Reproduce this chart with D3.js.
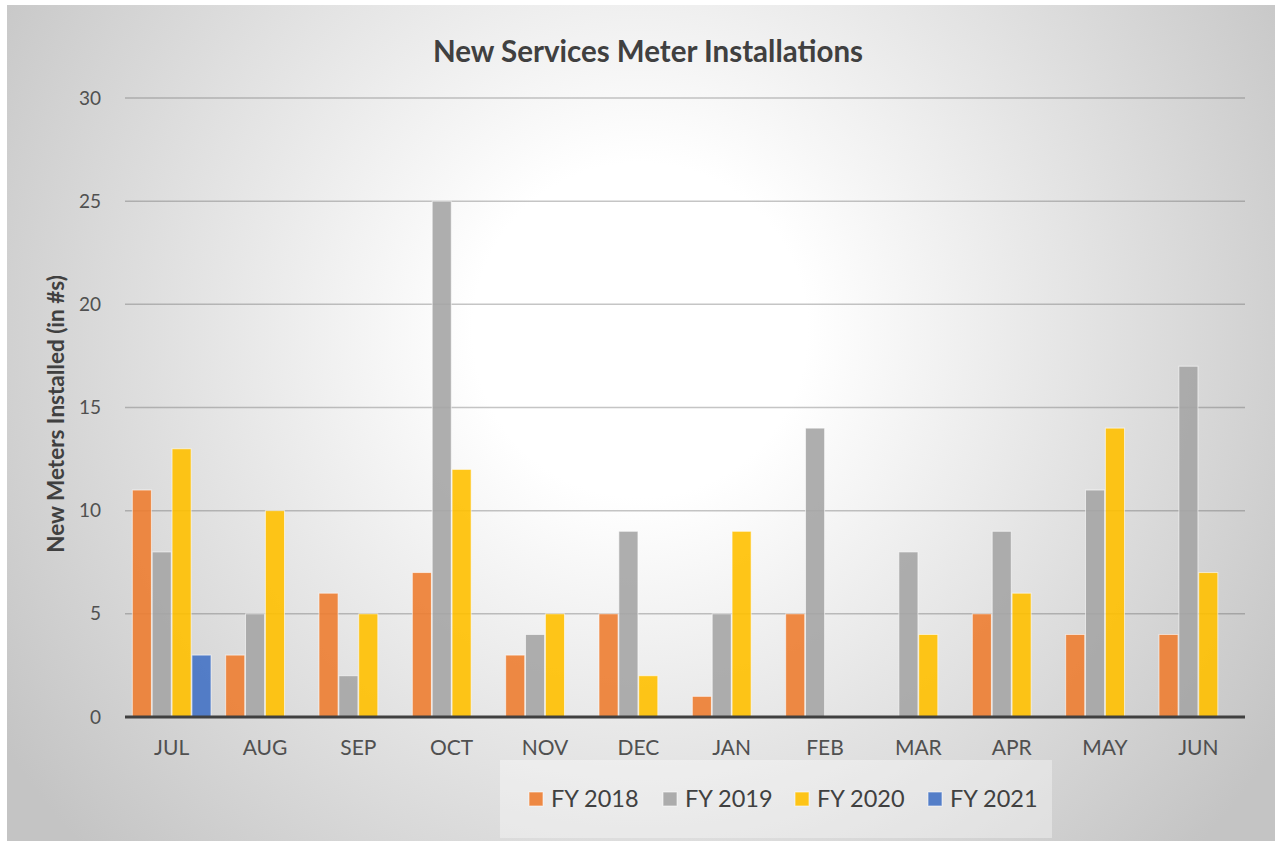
<!DOCTYPE html>
<html lang="en">
<head>
<meta charset="UTF-8">
<title>New Services Meter Installations</title>
<style>
  html, body { margin: 0; padding: 0; background: #fff; }
  svg { display: block; }
</style>
</head>
<body>
<div id="chart"></div>
<script src="https://cdnjs.cloudflare.com/ajax/libs/d3/7.8.5/d3.min.js"></script>
<script>
const months = ['JUL', 'AUG', 'SEP', 'OCT', 'NOV', 'DEC', 'JAN', 'FEB', 'MAR', 'APR', 'MAY', 'JUN'];
const seriesNames = ['FY 2018', 'FY 2019', 'FY 2020', 'FY 2021'];
const fy2018 = [11, 3, 6, 7, 3, 5, 1, 5, null, 5, 4, 4];
const fy2019 = [8, 5, 2, 25, 4, 9, 5, 14, 8, 9, 11, 17];
const fy2020 = [13, 10, 5, 12, 5, 2, 9, null, 4, 6, 14, 7];
const fy2021 = [3, null, null, null, null, null, null, null, null, null, null, null];
const yTicks = [0, 5, 10, 15, 20, 25, 30];
const colors = ['#ED7D31', '#A5A5A5', '#FFC000', '#4472C4'];

const allSeries = [fy2018, fy2019, fy2020, fy2021];
const W = 1275, H = 841;
const margin = {left: 125, right: 30, top: 98, bottom: 124};
const font = 'Lato, "Open Sans", sans-serif';

const svg = d3.select('#chart').append('svg')
  .attr('width', W).attr('height', H);

const defs = svg.append('defs');
const grad = defs.append('radialGradient')
  .attr('id', 'bg')
  .attr('gradientUnits', 'userSpaceOnUse')
  .attr('cx', 640).attr('cy', 330).attr('r', 760);
grad.append('stop').attr('offset', '0%').attr('stop-color', '#ffffff');
grad.append('stop').attr('offset', '22%').attr('stop-color', '#ffffff');
grad.append('stop').attr('offset', '100%').attr('stop-color', '#c4c4c4');

svg.append('rect')
  .attr('x', 7).attr('y', 5).attr('width', W - 7).attr('height', H - 5)
  .attr('fill', 'url(#bg)');

const x0 = d3.scaleBand()
  .domain(months)
  .range([margin.left, W - margin.right])
  .paddingInner(0.14).paddingOuter(0.07);

const x1 = d3.scaleBand()
  .domain(seriesNames)
  .range([0, x0.bandwidth()])
  .padding(0.04);

const y = d3.scaleLinear()
  .domain([0, 30])
  .range([H - margin.bottom, margin.top]);

// gridlines
svg.append('g')
  .selectAll('line')
  .data(yTicks.filter(d => d > 0))
  .join('line')
  .attr('x1', margin.left).attr('x2', W - margin.right)
  .attr('y1', d => y(d)).attr('y2', d => y(d))
  .attr('stroke', 'rgba(90,90,90,0.35)')
  .attr('stroke-width', 1.5);

// y tick labels
svg.append('g')
  .selectAll('text')
  .data(yTicks)
  .join('text')
  .attr('x', 101)
  .attr('y', d => y(d))
  .attr('dy', '0.35em')
  .attr('text-anchor', 'end')
  .attr('font-family', font)
  .attr('font-size', 19)
  .attr('fill', '#505050')
  .text(d => d);

// bars
const groups = svg.append('g')
  .selectAll('g')
  .data(months)
  .join('g')
  .attr('transform', d => `translate(${x0(d)},0)`);

groups.selectAll('rect')
  .data((m, i) => seriesNames.map((s, k) => ({s, k, v: allSeries[k][i]})).filter(d => d.v != null && d.v > 0))
  .join('rect')
  .attr('x', d => x1(d.s))
  .attr('width', x1.bandwidth())
  .attr('y', d => y(d.v))
  .attr('height', d => y(0) - y(d.v))
  .attr('fill', d => colors[d.k])
  .attr('fill-opacity', 0.9)
  .attr('stroke', 'rgba(255,255,255,0.6)')
  .attr('stroke-width', 1);

// baseline
svg.append('line')
  .attr('x1', margin.left).attr('x2', W - margin.right)
  .attr('y1', y(0)).attr('y2', y(0))
  .attr('stroke', '#404040')
  .attr('stroke-width', 3);

// month labels
svg.append('g')
  .selectAll('text')
  .data(months)
  .join('text')
  .attr('x', d => x0(d) + x0.bandwidth() / 2)
  .attr('y', 755)
  .attr('text-anchor', 'middle')
  .attr('font-family', font)
  .attr('font-size', 21)
  .attr('fill', '#505050')
  .text(d => d);

// title
svg.append('text')
  .attr('x', 648).attr('y', 62)
  .attr('text-anchor', 'middle')
  .attr('font-family', font)
  .attr('font-weight', 'bold')
  .attr('font-size', 29.5)
  .attr('fill', '#404040')
  .text('New Services Meter Installations');

// y axis label
svg.append('text')
  .attr('transform', 'translate(64,414) rotate(-90)')
  .attr('text-anchor', 'middle')
  .attr('font-family', font)
  .attr('font-weight', 'bold')
  .attr('font-size', 22.5)
  .attr('fill', '#404040')
  .text('New Meters Installed (in #s)');

// legend
svg.append('rect')
  .attr('x', 500).attr('y', 760).attr('width', 552).attr('height', 78)
  .attr('fill', 'rgba(255,255,255,0.35)');

const legendX = [529, 663, 795, 928];
const leg = svg.append('g')
  .selectAll('g')
  .data(seriesNames)
  .join('g')
  .attr('transform', (d, i) => `translate(${legendX[i]},799)`);
leg.append('rect')
  .attr('x', 0).attr('y', -7).attr('width', 14).attr('height', 14)
  .attr('fill', (d, i) => colors[i])
  .attr('fill-opacity', 0.9)
  .attr('stroke', 'rgba(255,255,255,0.6)');
leg.append('text')
  .attr('x', 22).attr('dy', '0.36em')
  .attr('font-family', font)
  .attr('font-size', 23.5)
  .attr('fill', '#404040')
  .text(d => d);
</script>
</body>
</html>
